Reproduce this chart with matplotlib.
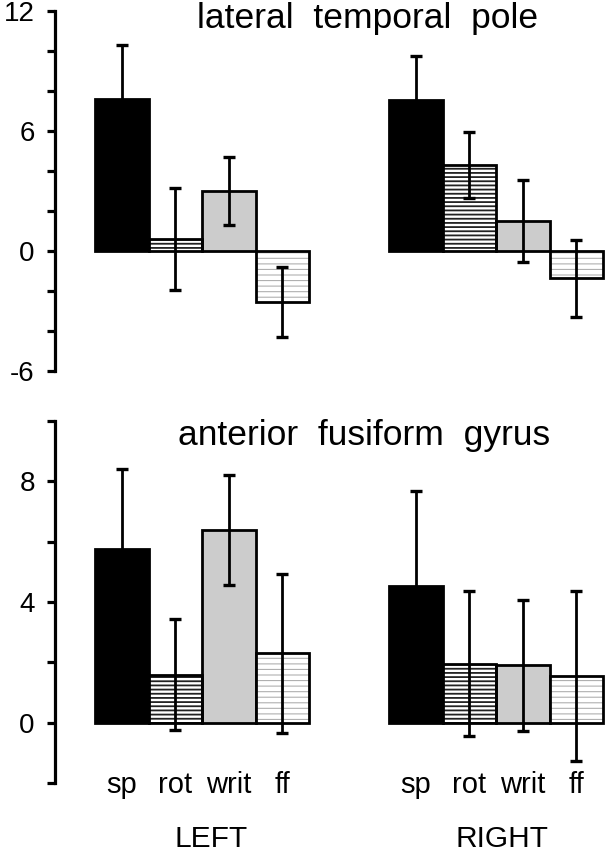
import matplotlib
matplotlib.use("Agg")
import matplotlib.pyplot as plt
import numpy as np
from matplotlib.ticker import MultipleLocator

plt.rcParams['font.family'] = ['Liberation Sans', 'DejaVu Sans']
plt.rcParams['axes.unicode_minus'] = False

categories = ["sp", "rot", "writ", "ff"]
hemispheres = ["LEFT", "RIGHT"]
titles = ["lateral  temporal  pole", "anterior  fusiform  gyrus"]

# panel 1: lateral temporal pole
tp_left = [7.6, 0.6, 3.0, -2.55]
tp_left_err = [2.7, 2.55, 1.7, 1.77]
tp_right = [7.55, 4.3, 1.5, -1.37]
tp_right_err = [2.2, 1.67, 2.07, 1.92]
# panel 2: anterior fusiform gyrus
fg_left = [5.75, 1.6, 6.38, 2.3]
fg_left_err = [2.65, 1.85, 1.82, 2.62]
fg_right = [4.54, 1.95, 1.9, 1.55]
fg_right_err = [3.14, 2.4, 2.17, 2.8]

panels = [
    dict(title=titles[0], L=tp_left, Le=tp_left_err, R=tp_right, Re=tp_right_err,
         ylim=(-6, 12), major=6, minor=2, title_y=11.15, title_x=4.6),
    dict(title=titles[1], L=fg_left, Le=fg_left_err, R=fg_right, Re=fg_right_err,
         ylim=(-2, 10), major=4, minor=2, title_y=9.2, title_x=4.53),
]

W, H = 610, 852
fig = plt.figure(figsize=(W / 100, H / 100), dpi=100)

ax_rects = [
    [55 / W, 1 - 371 / H, 555 / W, 360 / H],
    [55 / W, 1 - 783.3 / H, 555 / W, 362.6 / H],
]

x_left = np.arange(4)
x_right = np.arange(4) + 5.5

def draw_group(ax, xs, vals, errs):
    for i, (x, v, e) in enumerate(zip(xs, vals, errs)):
        cat = categories[i]
        if cat == "sp":
            ax.bar(x, v, width=1.0, color="black", edgecolor="black", linewidth=2.0, zorder=2)
        elif cat == "writ":
            ax.bar(x, v, width=1.0, color="#cccccc", edgecolor="black", linewidth=2.0, zorder=2)
        elif cat == "rot":
            with plt.rc_context({'hatch.linewidth': 1.3, 'hatch.color': '#222222'}):
                ax.bar(x, v, width=1.0, color="white", edgecolor="#222222", hatch="----",
                       linewidth=0, zorder=2)
            ax.bar(x, v, width=1.0, fill=False, edgecolor="black", linewidth=2.0, zorder=3)
        else:
            with plt.rc_context({'hatch.linewidth': 0.8, 'hatch.color': '#b0b0b0'}):
                ax.bar(x, v, width=1.0, color="white", edgecolor="#b0b0b0", hatch="---",
                       linewidth=0, zorder=2)
            ax.bar(x, v, width=1.0, fill=False, edgecolor="black", linewidth=2.0, zorder=3)
        ax.errorbar(x, v, yerr=e, fmt="none", ecolor="black", elinewidth=2.0,
                    capsize=4, capthick=2.4, zorder=4)

for p, rect in zip(panels, ax_rects):
    ax = fig.add_axes(rect)
    draw_group(ax, x_left, p["L"], p["Le"])
    draw_group(ax, x_right, p["R"], p["Re"])
    ax.set_xlim(-1.25, 9.13)
    ax.set_ylim(*p["ylim"])
    for s in ["top", "right", "bottom"]:
        ax.spines[s].set_visible(False)
    ax.spines["left"].set_linewidth(2.3)
    ax.spines["left"].set_capstyle("projecting")
    ax.set_xticks([])
    ax.yaxis.set_major_locator(MultipleLocator(p["major"]))
    ax.yaxis.set_minor_locator(MultipleLocator(p["minor"]))
    ax.tick_params(axis="y", which="both", direction="out", length=5.5, width=2.3,
                   labelsize=20, pad=9)
    ax.patch.set_visible(False)
    ax.text(p["title_x"], p["title_y"], p["title"], ha="center", va="baseline",
            fontsize=25.5, clip_on=False)
    if p is panels[1]:
        for xs in (x_left, x_right):
            for x, c in zip(xs, categories):
                ax.text(x, -2.33, c, ha="center", va="baseline", fontsize=21, clip_on=False)
        ax.text(1.67, -4.1, hemispheres[0], ha="center", va="baseline", fontsize=21.5, clip_on=False)
        ax.text(7.11, -4.1, hemispheres[1], ha="center", va="baseline", fontsize=21.5, clip_on=False)

fig.savefig("out.png", dpi=100)
